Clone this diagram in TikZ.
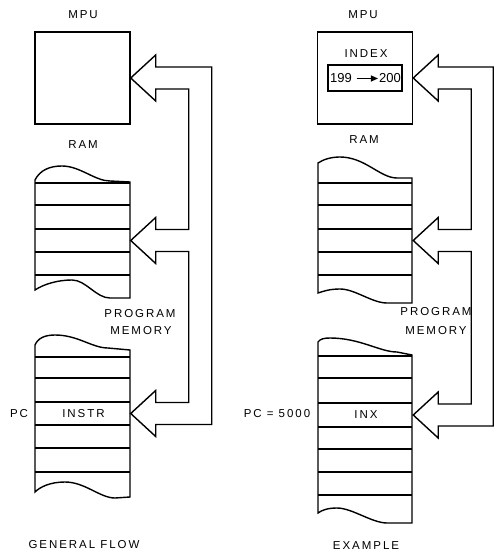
\documentclass[tikz,border=0pt]{standalone}
\usepackage{fontspec}
\setmainfont{Liberation Sans}[LetterSpace=17]
\newfontfamily\plainfont{Liberation Sans}
\usetikzlibrary{calc,arrows.meta}
\begin{document}
\begin{tikzpicture}[x=1pt,y=-1pt,
  line width=1.4pt, line join=miter,
  lbl/.style={font=\fontsize{11.5}{13}\selectfont, inner sep=0pt},
  numlbl/.style={font=\plainfont\fontsize{13}{15}\selectfont, inner sep=0pt},
  mpubox/.style={draw, line width=1.4pt, minimum width=95pt, minimum height=92pt, inner sep=0pt},
  cell/.style={minimum width=95pt, minimum height=23pt, inner sep=0pt, font=\fontsize{11.5}{13}\selectfont},
  regbox/.style={draw, line width=2pt, minimum width=74pt, minimum height=26pt, inner sep=0pt},
  flow/.style={line width=1.4pt, line join=miter},
  smallarrow/.style={line width=1.1pt, -{Triangle[length=7pt,width=6pt]}, shorten <=4pt, shorten >=0.5pt}
]
\fill[white] (0,0) rectangle (493,553);

% ---------------- LEFT: GENERAL FLOW ----------------
\node[lbl] (mpuLlbl) at (83,15) {MPU};
\node[mpubox] (mpuL) at (82.5,78) {};
\node[lbl] (ramLlbl) at (83,145) {RAM};

% RAM stack (left)
\draw (130,183) -- (130,298) -- (110,298) .. controls (96,298) and (86,280) .. (72,280)
  .. controls (58,280) and (44,284) .. (35,290) -- (35,180)
  .. controls (40,170) and (50,166) .. (62,166) .. controls (80,166) and (95,181) .. (110,181)
  -- (130,182) -- cycle;
\foreach \y in {183,205,229,252,275} \draw (35,\y) -- (130,\y);
\node[cell] (ramLrow) at (82.5,240.5) {};

\node[lbl] (pmLlbl1) at (140,314) {PROGRAM};
\node[lbl] (pmLlbl2) at (141,331) {MEMORY};

% Program memory stack (left)
\draw (130,357) -- (130,497) -- (115,498) .. controls (100,498) and (85,482) .. (65,482)
  .. controls (50,482) and (40,487) .. (35,492) -- (35,345)
  .. controls (38,338) and (45,335) .. (55,335) .. controls (78,335) and (92,348) .. (108,348)
  -- (130,350) -- cycle;
\foreach \y in {357,378,402,425,448,472} \draw (35,\y) -- (130,\y);
\node[cell] (instrL) at (82.5,413.5) {\hspace*{2pt}INSTR};
\node[lbl] (pcL) at (19,414) {PC};

\node[lbl] (gf) at (84,545) {GENERAL FLOW};

% hollow flow arrows (left)
\coordinate (A) at (mpuL.east);
\coordinate (B) at (ramLrow.east);
\coordinate (C) at (instrL.east);
\draw[flow] ($(A)+(25,-11)$) -- ($(A)+(81,-11)$) -- ($(C)+(81,11)$) -- ($(C)+(25,11)$)
  -- ($(C)+(25,23)$) -- (C) -- ($(C)+(25,-23)$) -- ($(C)+(25,-11)$) -- ($(C)+(58,-11)$)
  -- ($(B)+(58,11)$) -- ($(B)+(25,11)$) -- ($(B)+(25,23)$) -- (B) -- ($(B)+(25,-23)$)
  -- ($(B)+(25,-11)$) -- ($(B)+(58,-11)$) -- ($(A)+(58,11)$) -- ($(A)+(25,11)$)
  -- ($(A)+(25,23)$) -- (A) -- ($(A)+(25,-23)$) -- cycle;

% ---------------- RIGHT: EXAMPLE ----------------
\node[lbl] (mpuRlbl) at (363,15) {MPU};
\node[mpubox] (mpuR) at (365,78) {};
\node[lbl] (indexlbl) at (366,54) {INDEX};
\node[regbox] (reg) at (365,78) {};
\node[numlbl] (v199) at (341,78.5) {199};
\node[numlbl] (v200) at (390,78.5) {200};
\draw[smallarrow] (v199.east) -- (v200.west);
\node[lbl] (ramRlbl) at (364,140) {RAM};

% RAM stack (right)
\draw (412,183) -- (412,303) -- (387,303) .. controls (372,303) and (355,289) .. (340,289)
  .. controls (330,289) and (324,291) .. (318,293) -- (318,163)
  .. controls (324,159) and (332,157) .. (340,157) .. controls (365,157) and (380,178) .. (397,178)
  -- (412,178) -- cycle;
\foreach \y in {183,205,229,252,275} \draw (318,\y) -- (412,\y);
\node[cell] (ramRrow) at (365,240.5) {};

\node[lbl] (pmRlbl1) at (436,312) {PROGRAM};
\node[lbl] (pmRlbl2) at (436,331) {MEMORY};

% Program memory stack (right)
\draw (412,356) -- (412,523) -- (387,523) .. controls (372,523) and (352,508) .. (337,508)
  .. controls (328,508) and (322,510) .. (318,513) -- (318,342)
  .. controls (320,339) and (324,338) .. (330,338) .. controls (360,338) and (380,352) .. (397,352)
  -- (412,355) -- cycle;
\foreach \y in {356,378,403,427,449,472,495} \draw (318,\y) -- (412,\y);
\node[cell] (inxR) at (365,415) {\hspace*{2pt}INX};
\node[lbl] (pcR) at (277,414) {PC = 5000};

\node[lbl] (ex) at (366,546) {EXAMPLE};

% hollow flow arrows (right)
\coordinate (D) at (mpuR.east);
\coordinate (E) at (ramRrow.east);
\coordinate (F) at (inxR.east);
\draw[flow] ($(D)+(25,-11)$) -- ($(D)+(80,-11)$) -- ($(F)+(80,11)$) -- ($(F)+(25,11)$)
  -- ($(F)+(25,23)$) -- (F) -- ($(F)+(25,-23)$) -- ($(F)+(25,-11)$) -- ($(F)+(58,-11)$)
  -- ($(E)+(58,11)$) -- ($(E)+(25,11)$) -- ($(E)+(25,23)$) -- (E) -- ($(E)+(25,-23)$)
  -- ($(E)+(25,-11)$) -- ($(E)+(58,-11)$) -- ($(D)+(58,11)$) -- ($(D)+(25,11)$)
  -- ($(D)+(25,23)$) -- (D) -- ($(D)+(25,-23)$) -- cycle;
\end{tikzpicture}
\end{document}
